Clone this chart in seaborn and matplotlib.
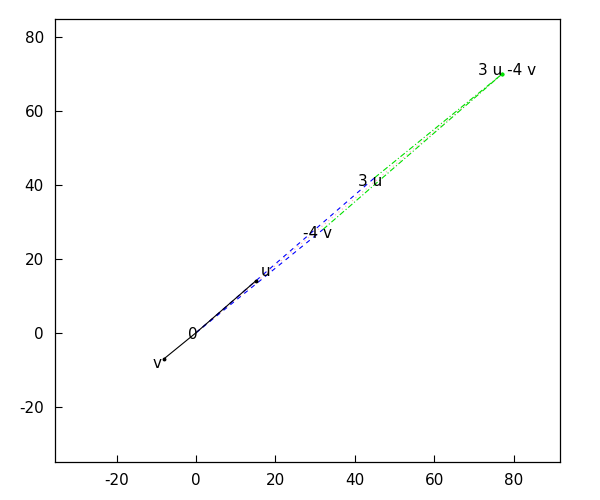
import numpy as np
import seaborn as sns
import matplotlib.pyplot as plt

# vectors
u = np.array([15, 14])
v = np.array([-8, -7])
origin = np.array([0, 0])
u3 = 3 * u
v4 = -4 * v
w = u3 + v4

# label text and positions
label_text = ["0", "u", "v", "-4 v", "3 u", "3 u -4 v"]
label_x = [-0.8, 17.6, -9.8, 30.7, 43.8, 78.3]
label_y = [-0.5, 16.5, -8.4, 27.0, 41.0, 71.1]

sns.set_style("white")
plt.rcParams['font.family'] = ['DejaVu Sans']
plt.rcParams['axes.unicode_minus'] = False
plt.rcParams['text.color'] = 'black'
plt.rcParams['xtick.color'] = 'black'
plt.rcParams['ytick.color'] = 'black'

fig = plt.figure(figsize=(6, 5), dpi=100)
ax = fig.add_axes([0.0917, 0.076, 0.8417, 0.886])


def seg(a, b, color, ls, lw=0.8, head=False):
    sns.lineplot(x=[a[0], b[0]], y=[a[1], b[1]], sort=False, color=color,
                 linestyle=ls, linewidth=lw, ax=ax)
    if head:
        ax.plot(b[0], b[1], "o", color=color, markersize=1.8)


# diagonal (faint red dotted)
seg(origin, w, "#ffaaaa", (0, (1, 3)))
# scaled vectors (blue dashed)
seg(origin, u3, "blue", (0, (4, 4)))
seg(origin, v4, "blue", (0, (4, 4)))
# parallelogram sides (green dash-dot)
seg(u3, w, "#00e000", (0, (5, 2, 1, 2)), head=True)
seg(v4, w, "#00e000", (0, (5, 2, 1, 2)), head=True)
# base vectors
seg(origin, u, "black", "-", head=True)
seg(origin, v, "black", "-", head=True)

for t, x, y in zip(label_text, label_x, label_y):
    ax.text(x, y, t, ha="center", va="center", fontsize=11, color="black")

ax.set_xlim(-35.5, 91.7)
ax.set_ylim(-35, 85)
ax.set_xticks([-20, 0, 20, 40, 60, 80])
ax.set_yticks([-20, 0, 20, 40, 60, 80])
ax.tick_params(direction="in", length=5, width=0.8, labelsize=11,
               bottom=True, left=True, top=False, right=False, pad=8,
               colors="black")
for s in ax.spines.values():
    s.set_color("black")
    s.set_linewidth(0.9)

plt.savefig("out.png", dpi=100)
